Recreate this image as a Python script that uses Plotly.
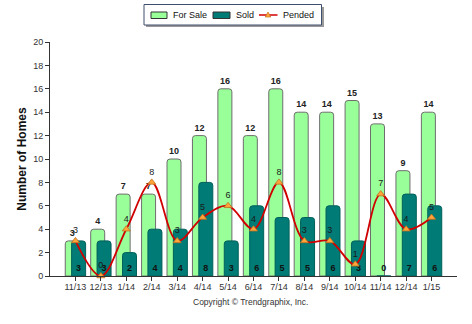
import plotly.graph_objects as go

months = ["11/13", "12/13", "1/14", "2/14", "3/14", "4/14", "5/14", "6/14",
          "7/14", "8/14", "9/14", "10/14", "11/14", "12/14", "1/15"]
for_sale = [3, 4, 7, 7, 10, 12, 16, 12, 16, 14, 14, 15, 13, 9, 14]
sold = [3, 3, 2, 4, 4, 8, 3, 6, 5, 5, 6, 3, 0, 7, 6]
pended = [3, 0, 4, 8, 3, 5, 6, 4, 8, 3, 3, 1, 7, 4, 5]

W, H = 472, 324
ML, MR, MT, MB = 50, 15, 42, 48
PW, PH = W - ML - MR, H - MT - MB

GREEN, GREEN_EDGE = "#99FF99", "#6E6E6E"
TEAL, TEAL_EDGE = "#007B75", "#00605A"
RED, ORANGE, ORANGE_EDGE = "#D00000", "#FFA53A", "#C07020"

x = list(range(len(months)))
font = "Arial, Liberation Sans, sans-serif"


def px(u):
    """page pixel x -> paper x"""
    return (u - ML) / PW


def py(v):
    """page pixel y (from top) -> paper y"""
    return (H - MB - v) / PH


fig = go.Figure()

fig.add_trace(go.Bar(
    x=x, y=for_sale, name="For Sale",
    width=0.55, offset=-0.40,
    marker=dict(color=GREEN, line=dict(color=GREEN_EDGE, width=1)),
    text=[str(v) for v in for_sale], textposition="outside",
    textfont=dict(family=font, size=9, color="#222222", weight="bold"),
    cliponaxis=False,
))

fig.add_trace(go.Bar(
    x=x, y=sold, name="Sold",
    width=0.55, offset=-0.15,
    marker=dict(color=TEAL, line=dict(color=TEAL_EDGE, width=1)),
))

# sold counts printed near the base of each sold bar
fig.add_trace(go.Scatter(
    x=[i + 0.125 for i in x], y=[0.65] * len(x), mode="text",
    text=[str(v) for v in sold], hoverinfo="skip",
    textfont=dict(family=font, size=9, color="#111111", weight="bold"),
))

fig.add_trace(go.Scatter(
    x=x, y=pended, name="Pended", mode="lines+markers+text",
    line=dict(color=RED, width=1.8, shape="spline", smoothing=1.0),
    marker=dict(symbol="triangle-up", size=7, color=ORANGE,
                line=dict(color=ORANGE_EDGE, width=0.8)),
    text=[str(v) for v in pended], textposition="top center",
    textfont=dict(family=font, size=9, color="#1A1A1A"),
    cliponaxis=False,
))

# legend box drawn above the plot area
shapes = [
    dict(type="rect", xref="paper", yref="paper", layer="above",
         x0=px(146), x1=px(324), y0=py(7), y1=py(27),
         fillcolor="#9A9A9A", line=dict(width=0)),
    dict(type="rect", xref="paper", yref="paper", layer="above",
         x0=px(144), x1=px(321.5), y0=py(4.5), y1=py(25),
         fillcolor="white", line=dict(color="#3E4E6E", width=1)),
    dict(type="rect", xref="paper", yref="paper", layer="above",
         x0=px(151), x1=px(167), y0=py(12), y1=py(18.5),
         fillcolor=GREEN, line=dict(color="#333333", width=1)),
    dict(type="rect", xref="paper", yref="paper", layer="above",
         x0=px(213), x1=px(230), y0=py(12), y1=py(18.5),
         fillcolor=TEAL, line=dict(color="#333333", width=1)),
    dict(type="line", xref="paper", yref="paper", layer="above",
         x0=px(259), x1=px(277.5), y0=py(15), y1=py(15),
         line=dict(color=RED, width=1.5)),
    dict(type="path", xref="paper", yref="paper", layer="above",
         path=(f"M {px(265.2)} {py(17)} L {px(270.8)} {py(17)} "
               f"L {px(268)} {py(12)} Z"),
         fillcolor=ORANGE, line=dict(color=ORANGE_EDGE, width=0.7)),
]

legend_labels = [("For Sale", 171), ("Sold", 234), ("Pended", 281)]
annotations = [
    dict(text=t, xref="paper", yref="paper", x=px(x0), y=py(15.2),
         xanchor="left", yanchor="middle", showarrow=False,
         font=dict(family=font, size=9, color="#111111"))
    for t, x0 in legend_labels
]
annotations.append(dict(
    text="Copyright \u00a9 Trendgraphix, Inc.", xref="paper", yref="paper",
    x=px(250), y=py(302), xanchor="center", yanchor="middle", showarrow=False,
    font=dict(family=font, size=8.5, color="#333333"),
))

fig.update_layout(
    width=W, height=H,
    margin=dict(l=ML, r=MR, t=MT, b=MB, autoexpand=False),
    paper_bgcolor="white", plot_bgcolor="white",
    barmode="overlay", barcornerradius=3,
    font=dict(family=font, size=9, color="#333333"),
    showlegend=False,
    xaxis=dict(
        range=[-1, 15], tickmode="array", tickvals=x, ticktext=months,
        tickangle=0, ticklabelstandoff=-2,
        showline=True, linecolor="#333333", linewidth=1,
        ticks="outside", ticklen=4, tickcolor="#333333",
        showgrid=False, zeroline=False,
        tickfont=dict(family=font, size=9, color="#333333"),
    ),
    yaxis=dict(
        range=[0, 20], dtick=2,
        showline=True, linecolor="#333333", linewidth=1,
        ticks="outside", ticklen=4, tickcolor="#333333",
        showgrid=False, zeroline=False,
        tickfont=dict(family=font, size=9, color="#333333"),
        title=dict(text="<b>Number of Homes</b>", standoff=3,
                   font=dict(family=font, size=12, color="#111111")),
    ),
    shapes=shapes,
    annotations=annotations,
)

fig.write_html("out.html")
